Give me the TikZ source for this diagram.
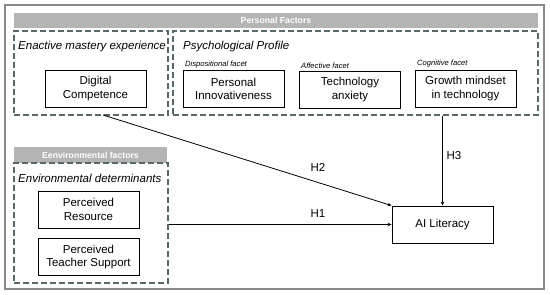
\documentclass[tikz,border=0pt]{standalone}
\usepackage{fontspec}
\setmainfont{Liberation Sans}
\usetikzlibrary{arrows.meta}
\definecolor{dashcol}{HTML}{55696B}
\definecolor{barcol}{HTML}{B4B4B4}
\definecolor{outercol}{HTML}{8A8A8A}
\tikzset{
  varbox/.style={draw=black, line width=0.9pt, minimum width=101pt, minimum height=37pt, inner sep=0pt, align=center, font=\fontsize{11.5}{13.5}\selectfont},
  groupbox/.style={draw=dashcol, line width=1.1pt, dash pattern=on 6pt off 3pt, inner sep=0pt},
  bar/.style={fill=barcol, draw=none, inner sep=0pt, text=white, font=\bfseries\fontsize{8.7}{10}\selectfont},
  grouptitle/.style={anchor=west, inner sep=0pt, font=\itshape\fontsize{11.5}{13}\selectfont},
  facet/.style={anchor=west, inner sep=0pt, font=\itshape\fontsize{7.6}{9}\selectfont},
  hlabel/.style={inner sep=0pt, font=\fontsize{11.5}{13}\selectfont},
  link/.style={draw=black, line width=0.8pt, -{Stealth[length=4pt,width=3.5pt]}}
}
\begin{document}
\begin{tikzpicture}[x=1pt,y=-1pt]
\useasboundingbox (0,0) rectangle (550,295);
% outer frame
\node[draw=outercol, line width=1.2pt, minimum width=539pt, minimum height=284pt, inner sep=0pt] (frame) at (274.5,147) {};
% header bars
\node[bar, minimum width=524pt, minimum height=15pt] (pbar) at (276,20.5) {Personal Factors};
\node[bar, minimum width=153pt, minimum height=16pt] (ebar) at (90.5,155) {Eenvironmental factors};
% dashed group boxes
\node[groupbox, minimum width=154pt, minimum height=84pt] (enact) at (91,73) {};
\node[groupbox, minimum width=365pt, minimum height=84pt] (psych) at (355.5,73) {};
\node[groupbox, minimum width=154pt, minimum height=120pt] (env) at (91,223) {};
% group titles
\node[grouptitle] (t1) at (18,47) {Enactive mastery experience};
\node[grouptitle] (t2) at (183,47) {Psychological Profile};
\node[grouptitle] (t3) at (18,178) {Environmental determinants};
% facet labels
\node[facet] (f1) at (185,65) {Dispositional facet};
\node[facet] (f2) at (301,65.5) {Affective facet};
\node[facet] (f3) at (417,64) {Cognitive facet};
% variable boxes
\node[varbox] (dc) at (95.5,88.5) {Digital\\Competence};
\node[varbox] (pi) at (233.5,89) {Personal\\Innovativeness};
\node[varbox] (ta) at (350,89.5) {Technology\\anxiety};
\node[varbox] (gm) at (465.5,88.5) {Growth mindset\\in technology};
\node[varbox] (pr) at (88.5,209.5) {Perceived\\Resource};
\node[varbox] (pts) at (88.5,257) {Perceived\\Teacher Support};
\node[varbox] (ai) at (442.5,224.5) {AI Literacy};
% connectors
\coordinate (h2s) at (103,115);
\draw[link] (env.east |- ai.west) -- (ai.west);
\draw[link] (h2s) -- (ai.north west);
\draw[link] (psych.south -| ai.north) -- (ai.north);
% labels
\node[hlabel] (h1) at (318,214) {H1};
\node[hlabel] (h2) at (318,167) {H2};
\node[hlabel] (h3) at (454,156) {H3};
\end{tikzpicture}
\end{document}
